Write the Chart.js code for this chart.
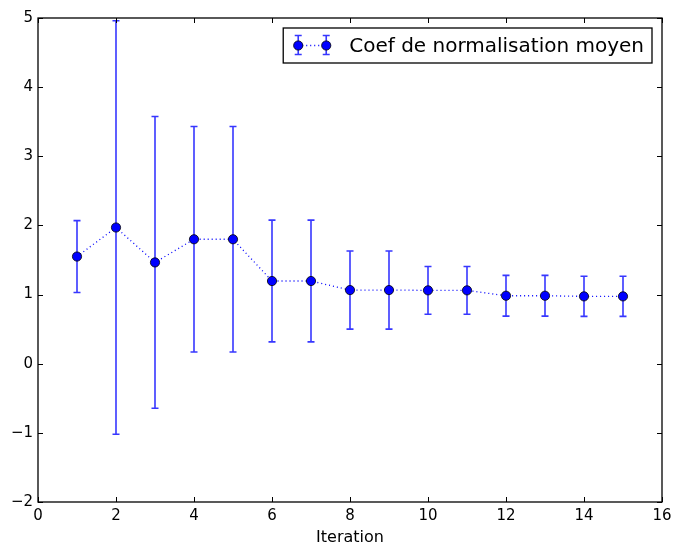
<!DOCTYPE html>
<html>
<head>
<meta charset="utf-8">
<script src="https://cdn.jsdelivr.net/npm/chart.js@4"></script>
<style>
  html, body { margin: 0; padding: 0; background: #fff; }
  #wrap { width: 673px; height: 544px; }
</style>
</head>
<body>
<div id="wrap"><canvas id="c1"></canvas></div>
<script>
// values
var iterations = [1, 2, 3, 4, 5, 6, 7, 8, 9, 10, 11, 12, 13, 14, 15];
var coefMoyen = [1.55, 1.97, 1.465, 1.80, 1.80, 1.196, 1.196, 1.065, 1.065, 1.061, 1.061, 0.983, 0.983, 0.974, 0.974];
var coefErr = [0.52, 2.99, 2.11, 1.63, 1.63, 0.88, 0.88, 0.565, 0.565, 0.345, 0.345, 0.295, 0.295, 0.29, 0.29];
var xTicks = [0, 2, 4, 6, 8, 10, 12, 14, 16];
var yTicks = [-2, -1, 0, 1, 2, 3, 4, 5];
var serieLabel = 'Coef de normalisation moyen';

var FONT = "'DejaVu Sans', sans-serif";
var BLUE = '#0000ff';
var ERRCOL = 'rgba(20,20,255,0.85)';
var ctx1 = document.getElementById('c1');

function drawErr(ctx, x, yTop, yBot, cap){
	ctx.beginPath();
	ctx.moveTo(x, yTop); ctx.lineTo(x, yBot);
	ctx.moveTo(x - cap, yTop); ctx.lineTo(x + cap, yTop);
	ctx.moveTo(x - cap, yBot); ctx.lineTo(x + cap, yBot);
	ctx.stroke();
}

function drawDot(ctx, x, y){
	ctx.beginPath();
	ctx.arc(x, y, 4.6, 0, Math.PI * 2);
	ctx.fillStyle = BLUE;
	ctx.fill();
	ctx.lineWidth = 0.8;
	ctx.strokeStyle = '#000';
	ctx.stroke();
}

var errorBars = {
	id: 'errorBars',
	beforeDatasetsDraw: function(chart){
		var c = chart.ctx, sx = chart.scales.x, sy = chart.scales.y;
		c.save();
		c.strokeStyle = ERRCOL;
		c.lineWidth = 1.6;
		for (var i = 0; i < iterations.length; i++) {
			var px = sx.getPixelForValue(iterations[i]);
			drawErr(c, px, sy.getPixelForValue(coefMoyen[i] + coefErr[i]), sy.getPixelForValue(coefMoyen[i] - coefErr[i]), 3.5);
		}
		c.restore();
	}
};

var frame = {
	id: 'frame',
	afterDraw: function(chart){
		var c = chart.ctx, a = chart.chartArea, sx = chart.scales.x, sy = chart.scales.y;
		c.save();
		c.strokeStyle = '#000';
		c.lineWidth = 1;
		// inward ticks, all four sides
		c.beginPath();
		xTicks.forEach(function(v){
			var px = Math.round(sx.getPixelForValue(v)) + 0.5;
			c.moveTo(px, a.bottom); c.lineTo(px, a.bottom - 5);
			c.moveTo(px, a.top); c.lineTo(px, a.top + 5);
		});
		yTicks.forEach(function(v){
			var py = Math.round(sy.getPixelForValue(v)) + 0.5;
			c.moveTo(a.left, py); c.lineTo(a.left + 5, py);
			c.moveTo(a.right, py); c.lineTo(a.right - 5, py);
		});
		c.stroke();
		c.lineWidth = 1.3;
		c.strokeRect(a.left, a.top, a.right - a.left, a.bottom - a.top);

		// legend
		c.font = '20px ' + FONT;
		var tw = c.measureText(serieLabel).width;
		var bw = tw + 74, bh = 35;
		var bx = a.right - 10 - bw, by = a.top + 10;
		c.fillStyle = '#fff';
		c.fillRect(bx, by, bw, bh);
		c.lineWidth = 1.3;
		c.strokeStyle = '#000';
		c.strokeRect(bx, by, bw, bh);
		var ly = by + bh / 2, m1 = bx + 15, m2 = bx + 43;
		c.strokeStyle = BLUE;
		c.lineWidth = 1.3;
		c.setLineDash([1, 3]);
		c.beginPath(); c.moveTo(m1, ly); c.lineTo(m2, ly); c.stroke();
		c.setLineDash([]);
		c.strokeStyle = ERRCOL;
		c.lineWidth = 1.6;
		drawErr(c, m1, ly - 10, ly + 9, 3.5);
		drawErr(c, m2, ly - 10, ly + 9, 3.5);
		drawDot(c, m1, ly);
		drawDot(c, m2, ly);
		c.fillStyle = '#000';
		c.textBaseline = 'middle';
		c.fillText(serieLabel, bx + 66, ly + 1);
		c.restore();
	}
};

myChart1 = new Chart(ctx1, {
	type: 'line',
	data: {
		datasets: [{
			label: serieLabel,
			data: iterations.map(function(v, i){ return {x: v, y: coefMoyen[i]}; }),
			borderColor: BLUE,
			borderWidth: 1.3,
			borderDash: [1, 3],
			pointRadius: 4.6,
			pointBackgroundColor: BLUE,
			pointBorderColor: '#000',
			pointBorderWidth: 0.8,
			tension: 0
		}]
	},
	options: {
		responsive: true,
		maintainAspectRatio: false,
		animation: false,
		events: [],
		layout: { padding: { top: 18, right: 11, left: 0, bottom: 0 } },
		plugins: { legend: { display: false }, tooltip: { enabled: false } },
		scales: {
			x: {
				type: 'linear', min: 0, max: 16,
				afterBuildTicks: function(s){ s.ticks = xTicks.map(function(v){ return {value: v}; }); },
				afterFit: function(s){ s.height = 42; s.paddingLeft = 0; s.paddingRight = 0; },
				grid: { display: false, drawTicks: false },
				border: { display: false },
				ticks: { color: '#000', font: { family: FONT, size: 15 }, padding: 5, maxRotation: 0 },
				title: { display: true, text: 'Iteration', color: '#000', font: { family: FONT, size: 16, lineHeight: 0.75 }, padding: 0 }
			},
			y: {
				min: -2, max: 5,
				afterBuildTicks: function(s){ s.ticks = yTicks.map(function(v){ return {value: v}; }); },
				afterFit: function(s){ s.width = 38; s.paddingTop = 0; s.paddingBottom = 0; },
				grid: { display: false, drawTicks: false },
				border: { display: false },
				ticks: {
					color: '#000', font: { family: FONT, size: 15 }, padding: 5,
					callback: function(v){ return v < 0 ? '\u2212' + Math.abs(v) : String(v); }
				}
			}
		}
	},
	plugins: [errorBars, frame]
});
</script>
</body>
</html>
